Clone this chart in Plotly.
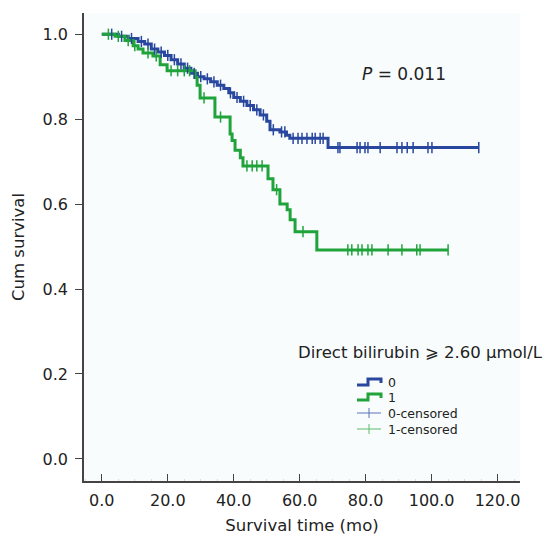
import numpy as np
import plotly.graph_objects as go

# ---- data ----
# Group 0 (Direct bilirubin < 2.60): step times (mo) and survival after each step
g0_times = [0, 5, 8, 11, 13, 15, 17, 19, 21, 23, 25, 27, 29, 31, 33, 35, 37, 38.5, 40,
            42, 44, 46, 48, 50, 51, 54, 56, 57, 68.6]
g0_surv = [1.0, 0.995, 0.99, 0.983, 0.977, 0.965, 0.958, 0.95, 0.94, 0.93, 0.92, 0.908,
           0.9, 0.895, 0.888, 0.88, 0.872, 0.862, 0.851, 0.842, 0.832, 0.822, 0.81, 0.795,
           0.775, 0.77, 0.762, 0.755, 0.733]
g0_censor = [3, 6, 9, 12, 14, 16, 18, 20, 22, 24, 26, 28, 30, 32, 34, 36, 39, 41, 43, 45,
             47, 49, 52, 54.5, 55.5, 58, 59.5, 60.7, 62.2, 63.8, 64.7, 66.2, 67.1, 71.6,
             72.2, 77.4, 78.3, 79.8, 80.7, 84.4, 89.5, 91, 92.6, 94.4, 98.9, 100.1, 114.3]

# Group 1 (Direct bilirubin >= 2.60)
g1_times = [0, 4, 7, 9.5, 11, 12.5, 15.5, 17.7, 19.8, 28.3, 28.9, 29.8, 34.3, 38.9, 39.5,
            40.4, 42, 42.8, 50.4, 51.9, 54, 56.2, 57.1, 58.6, 65.2]
g1_surv = [1.0, 0.995, 0.985, 0.973, 0.965, 0.956, 0.949, 0.928, 0.914, 0.898, 0.88, 0.85,
           0.805, 0.765, 0.75, 0.727, 0.709, 0.69, 0.66, 0.634, 0.6, 0.587, 0.563, 0.535,
           0.492]
g1_censor = [2, 5, 8, 10, 14, 16.5, 21, 23, 25, 26.6, 31, 36, 44, 45.6, 47, 48.6, 53, 61,
             74.6, 75.8, 77.7, 78.9, 80.7, 81.9, 86.8, 91, 95.5, 96.5, 105]

x_ticks = [0, 20, 40, 60, 80, 100, 120]
y_ticks = [0.0, 0.2, 0.4, 0.6, 0.8, 1.0]
legend_title = "Direct bilirubin \u2a7e 2.60 \u03bcmol/L"
legend_labels = ["0", "1", "0-censored", "1-censored"]
p_text = "<i>P</i> = 0.011"

BLUE = "#2a479f"
GREEN = "#1fa33a"
BLUE_L = "#5a73b8"
GREEN_L = "#5cbc6c"
FONT = "DejaVu Sans"

W, H = 550, 535
ML, MR, MT, MB = 84, 30, 13, 54
PW, PH = W - ML - MR, H - MT - MB


def px(xp):
    return (xp - ML) / PW


def py(yp):
    return (H - MB - yp) / PH


def step_xy(times, surv, end):
    return list(times) + [end], list(surv) + [surv[-1]]


def censor_y(times, surv, cens):
    idx = np.searchsorted(np.array(times), np.array(cens), side="right") - 1
    return [surv[i] for i in idx]


fig = go.Figure()

for times, surv, cens, col, name in [
    (g0_times, g0_surv, g0_censor, BLUE, "0"),
    (g1_times, g1_surv, g1_censor, GREEN, "1"),
]:
    xs, ys = step_xy(times, surv, max(cens))
    fig.add_trace(go.Scatter(x=xs, y=ys, mode="lines", line=dict(color=col, width=3, shape="hv"),
                             name=name, showlegend=False))

for times, surv, cens, col, name in [
    (g0_times, g0_surv, g0_censor, BLUE, "0-censored"),
    (g1_times, g1_surv, g1_censor, GREEN, "1-censored"),
]:
    fig.add_trace(go.Scatter(x=cens, y=censor_y(times, surv, cens), mode="markers", name=name,
                             marker=dict(symbol="line-ns", size=8, line=dict(color=col, width=1.5)),
                             showlegend=False, hoverinfo="skip"))

# ---- hand-built legend (step icons like the original) ----
shapes = []
annotations = []
icon_x0, icon_w, text_x = 357, 24, 386
rows = [382, 397, 413, 429]
icon_cols = [BLUE, GREEN, BLUE_L, GREEN_L]
for i, (lab, col, ry) in enumerate(zip(legend_labels, icon_cols, rows)):
    if i < 2:
        path = (f"M {px(icon_x0)},{py(ry + 3)} L {px(icon_x0 + 11)},{py(ry + 3)} "
                f"L {px(icon_x0 + 11)},{py(ry - 3)} L {px(icon_x0 + icon_w)},{py(ry - 3)} "
                f"L {px(icon_x0 + icon_w)},{py(ry + 1)}")
        shapes.append(dict(type="path", xref="paper", yref="paper", path=path,
                           line=dict(color=col, width=3)))
    else:
        shapes.append(dict(type="line", xref="paper", yref="paper", x0=px(icon_x0), x1=px(icon_x0 + icon_w),
                           y0=py(ry), y1=py(ry), line=dict(color=col, width=1)))
        shapes.append(dict(type="line", xref="paper", yref="paper", x0=px(icon_x0 + 12), x1=px(icon_x0 + 12),
                           y0=py(ry - 5), y1=py(ry + 5), line=dict(color=col, width=1)))
    annotations.append(dict(text=lab, xref="paper", yref="paper", x=px(text_x), y=py(ry),
                            xanchor="left", yanchor="middle", showarrow=False,
                            font=dict(size=12.5, family=FONT, color="#222")))

annotations.append(dict(text=legend_title, xref="paper", yref="paper", x=px(296), y=py(352),
                        xanchor="left", yanchor="middle", showarrow=False,
                        font=dict(size=16.5, family=FONT, color="#222")))
annotations.append(dict(text=p_text, xref="paper", yref="paper", x=px(404), y=py(74),
                        xanchor="center", yanchor="middle", showarrow=False,
                        font=dict(size=17, family=FONT, color="#222")))

fig.update_layout(
    width=W, height=H,
    margin=dict(l=ML, r=MR, t=MT, b=MB),
    paper_bgcolor="white",
    plot_bgcolor="#f8fcfd",
    font=dict(family=FONT, size=16, color="#222"),
    showlegend=False,
    xaxis=dict(range=[-5.4, 126.8], tickvals=x_ticks, ticktext=[f"{v:.1f}" for v in x_ticks],
               showgrid=False, zeroline=False, showline=True, linecolor="#444", linewidth=1.5,
               ticks="inside", ticklen=7, tickcolor="#444", tickwidth=1,
               minor=dict(dtick=5, ticks="inside", ticklen=2, tickcolor="#dddddd"),
               tickfont=dict(size=16), ticklabelstandoff=4, automargin=False,
               title=dict(text="Survival time (mo)", standoff=10, font=dict(size=16.5))),
    yaxis=dict(range=[-0.052, 1.05], tickvals=y_ticks, ticktext=[f"{v:.1f}" for v in y_ticks],
               showgrid=False, zeroline=False, showline=True, linecolor="#444", linewidth=1.5,
               ticks="outside", ticklen=7, tickcolor="#444", tickwidth=1,
               tickfont=dict(size=16), ticklabelstandoff=4, automargin=False,
               title=dict(text="Cum survival", standoff=14, font=dict(size=16.5))),
    shapes=shapes,
    annotations=annotations,
)

fig.write_html("out.html")
